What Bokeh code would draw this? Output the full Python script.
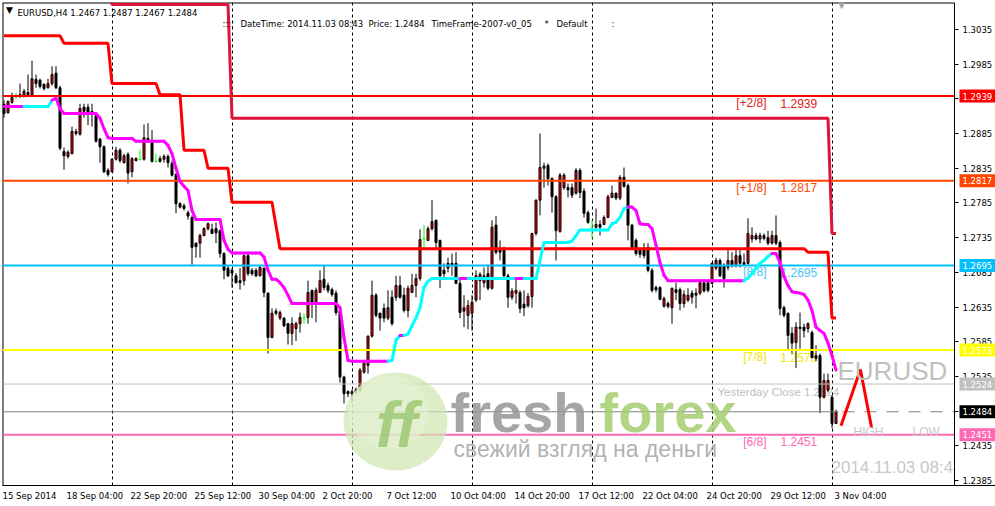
from bokeh.plotting import figure
from bokeh.models import (Range1d, FixedTicker, LinearAxis, Label, Grid,
                          PrintfTickFormatter)
from bokeh.core.properties import value
from bokeh.embed import file_html
from bokeh.resources import INLINE

# ---------------- data (EURUSD H4) ----------------
opens = [
    1.2927, 1.2915, 1.2930, 1.2938, 1.2941, 1.2940, 1.2944, 1.2941, 1.2963, 1.2962,
    1.2956, 1.2951, 1.2957, 1.2972, 1.2951, 1.2859, 1.2852, 1.2856, 1.2888, 1.2884,
    1.2923, 1.2923, 1.2917, 1.2911, 1.2877, 1.2866, 1.2832, 1.2830, 1.2848, 1.2861,
    1.2843, 1.2855, 1.2830, 1.2846, 1.2848, 1.2848, 1.2878, 1.2872, 1.2845, 1.2849,
    1.2848, 1.2852, 1.2842, 1.2826, 1.2784, 1.2781, 1.2771, 1.2764, 1.2727, 1.2727,
    1.2738, 1.2748, 1.2747, 1.2748, 1.2745, 1.2712, 1.2691, 1.2688, 1.2680, 1.2673,
    1.2673, 1.2709, 1.2688, 1.2688, 1.2680, 1.2691, 1.2655, 1.2591, 1.2629, 1.2619,
    1.2619, 1.2611, 1.2597, 1.2604, 1.2611, 1.2619, 1.2620, 1.2659, 1.2642, 1.2656,
    1.2675, 1.2666, 1.2660, 1.2655, 1.2630, 1.2534, 1.2513, 1.2510, 1.2512, 1.2515,
    1.2541, 1.2551, 1.2593, 1.2652, 1.2626, 1.2633, 1.2619, 1.2649, 1.2649, 1.2666,
    1.2652, 1.2630, 1.2656, 1.2666, 1.2676, 1.2733, 1.2731, 1.2748, 1.2760, 1.2731,
    1.2688, 1.2691, 1.2698, 1.2698, 1.2669, 1.2629, 1.2623, 1.2626, 1.2645, 1.2673,
    1.2670, 1.2683, 1.2662, 1.2753, 1.2719, 1.2717, 1.2680, 1.2649, 1.2655, 1.2656,
    1.2639, 1.2637, 1.2650, 1.2741, 1.2789, 1.2835, 1.2839, 1.2820, 1.2794, 1.2744,
    1.2807, 1.2807, 1.2807, 1.2799, 1.2832, 1.2802, 1.2771, 1.2749, 1.2750, 1.2754,
    1.2754, 1.2764, 1.2793, 1.2799, 1.2792, 1.2822, 1.2810, 1.2753, 1.2731, 1.2717,
    1.2719, 1.2721, 1.2688, 1.2663, 1.2663, 1.2636, 1.2640, 1.2634, 1.2660, 1.2660,
    1.2640, 1.2645, 1.2655, 1.2652, 1.2655, 1.2670, 1.2670, 1.2669, 1.2691, 1.2702,
    1.2695, 1.2692, 1.2702, 1.2695, 1.2709, 1.2699, 1.2698, 1.2733, 1.2738, 1.2733,
    1.2738, 1.2735, 1.2727, 1.2738, 1.2728, 1.2634, 1.2626, 1.2597, 1.2584, 1.2606,
    1.2606, 1.2604, 1.2598, 1.2565, 1.2565, 1.2505, 1.2515, 1.2505, 1.2467,
]
highs = [
    1.2933, 1.2933, 1.2944, 1.2944, 1.2957, 1.2949, 1.2970, 1.2990, 1.2970, 1.2964,
    1.2957, 1.2964, 1.2982, 1.2982, 1.2954, 1.2865, 1.2861, 1.2895, 1.2892, 1.2928,
    1.2928, 1.2928, 1.2928, 1.2914, 1.2879, 1.2868, 1.2835, 1.2849, 1.2866, 1.2864,
    1.2856, 1.2858, 1.2851, 1.2851, 1.2862, 1.2898, 1.2900, 1.2890, 1.2856, 1.2853,
    1.2855, 1.2855, 1.2846, 1.2828, 1.2786, 1.2784, 1.2774, 1.2767, 1.2728, 1.2741,
    1.2750, 1.2757, 1.2755, 1.2757, 1.2747, 1.2714, 1.2694, 1.2691, 1.2684, 1.2691,
    1.2709, 1.2714, 1.2691, 1.2691, 1.2695, 1.2692, 1.2656, 1.2633, 1.2633, 1.2630,
    1.2620, 1.2612, 1.2620, 1.2614, 1.2627, 1.2626, 1.2673, 1.2660, 1.2663, 1.2688,
    1.2695, 1.2670, 1.2663, 1.2659, 1.2633, 1.2536, 1.2515, 1.2516, 1.2519, 1.2547,
    1.2555, 1.2594, 1.2673, 1.2655, 1.2627, 1.2640, 1.2659, 1.2659, 1.2680, 1.2680,
    1.2663, 1.2666, 1.2683, 1.2683, 1.2747, 1.2753, 1.2751, 1.2789, 1.2761, 1.2732,
    1.2698, 1.2706, 1.2712, 1.2714, 1.2678, 1.2652, 1.2645, 1.2652, 1.2688, 1.2685,
    1.2692, 1.2696, 1.2760, 1.2766, 1.2731, 1.2722, 1.2683, 1.2662, 1.2676, 1.2659,
    1.2659, 1.2655, 1.2742, 1.2790, 1.2885, 1.2843, 1.2842, 1.2822, 1.2796, 1.2828,
    1.2828, 1.2813, 1.2813, 1.2835, 1.2835, 1.2806, 1.2774, 1.2760, 1.2777, 1.2760,
    1.2767, 1.2797, 1.2810, 1.2800, 1.2825, 1.2836, 1.2813, 1.2755, 1.2734, 1.2721,
    1.2727, 1.2727, 1.2691, 1.2666, 1.2665, 1.2650, 1.2643, 1.2663, 1.2670, 1.2663,
    1.2659, 1.2662, 1.2659, 1.2662, 1.2673, 1.2675, 1.2672, 1.2699, 1.2706, 1.2705,
    1.2698, 1.2717, 1.2714, 1.2717, 1.2717, 1.2712, 1.2763, 1.2750, 1.2742, 1.2742,
    1.2741, 1.2745, 1.2745, 1.2767, 1.2731, 1.2637, 1.2627, 1.2606, 1.2613, 1.2627,
    1.2611, 1.2613, 1.2601, 1.2580, 1.2568, 1.2539, 1.2539, 1.2508, 1.2487,
]
lows = [
    1.2908, 1.2914, 1.2928, 1.2934, 1.2937, 1.2937, 1.2938, 1.2940, 1.2951, 1.2950,
    1.2947, 1.2950, 1.2954, 1.2949, 1.2861, 1.2833, 1.2849, 1.2855, 1.2882, 1.2882,
    1.2908, 1.2897, 1.2895, 1.2872, 1.2843, 1.2828, 1.2823, 1.2829, 1.2846, 1.2843,
    1.2842, 1.2813, 1.2822, 1.2845, 1.2846, 1.2846, 1.2872, 1.2843, 1.2843, 1.2843,
    1.2843, 1.2836, 1.2823, 1.2770, 1.2777, 1.2774, 1.2761, 1.2696, 1.2706, 1.2706,
    1.2737, 1.2745, 1.2740, 1.2727, 1.2706, 1.2675, 1.2678, 1.2663, 1.2669, 1.2660,
    1.2666, 1.2680, 1.2680, 1.2678, 1.2679, 1.2649, 1.2568, 1.2590, 1.2623, 1.2616,
    1.2606, 1.2581, 1.2580, 1.2586, 1.2598, 1.2611, 1.2611, 1.2619, 1.2613, 1.2655,
    1.2659, 1.2655, 1.2650, 1.2623, 1.2526, 1.2496, 1.2505, 1.2497, 1.2510, 1.2512,
    1.2539, 1.2539, 1.2591, 1.2620, 1.2601, 1.2613, 1.2616, 1.2608, 1.2644, 1.2647,
    1.2627, 1.2620, 1.2655, 1.2649, 1.2673, 1.2721, 1.2730, 1.2745, 1.2717, 1.2662,
    1.2676, 1.2685, 1.2680, 1.2668, 1.2619, 1.2606, 1.2603, 1.2601, 1.2642, 1.2645,
    1.2663, 1.2659, 1.2660, 1.2711, 1.2702, 1.2678, 1.2634, 1.2645, 1.2640, 1.2626,
    1.2622, 1.2634, 1.2634, 1.2738, 1.2767, 1.2807, 1.2810, 1.2771, 1.2702, 1.2742,
    1.2804, 1.2793, 1.2792, 1.2797, 1.2792, 1.2764, 1.2755, 1.2734, 1.2745, 1.2738,
    1.2753, 1.2763, 1.2792, 1.2789, 1.2789, 1.2807, 1.2731, 1.2717, 1.2709, 1.2706,
    1.2705, 1.2685, 1.2656, 1.2656, 1.2645, 1.2634, 1.2633, 1.2611, 1.2645, 1.2630,
    1.2634, 1.2642, 1.2640, 1.2633, 1.2652, 1.2656, 1.2656, 1.2668, 1.2688, 1.2678,
    1.2663, 1.2688, 1.2692, 1.2692, 1.2692, 1.2695, 1.2695, 1.2728, 1.2731, 1.2727,
    1.2731, 1.2724, 1.2725, 1.2724, 1.2623, 1.2620, 1.2572, 1.2568, 1.2547, 1.2575,
    1.2591, 1.2598, 1.2561, 1.2557, 1.2482, 1.2503, 1.2512, 1.2461, 1.2467,
]
closes = [
    1.2914, 1.2931, 1.2937, 1.2938, 1.2938, 1.2946, 1.2941, 1.2964, 1.2957, 1.2953,
    1.2950, 1.2957, 1.2970, 1.2951, 1.2864, 1.2853, 1.2858, 1.2888, 1.2885, 1.2921,
    1.2917, 1.2914, 1.2914, 1.2874, 1.2866, 1.2830, 1.2826, 1.2848, 1.2861, 1.2846,
    1.2853, 1.2828, 1.2849, 1.2849, 1.2848, 1.2879, 1.2875, 1.2845, 1.2845, 1.2845,
    1.2852, 1.2843, 1.2825, 1.2784, 1.2779, 1.2777, 1.2766, 1.2721, 1.2722, 1.2738,
    1.2748, 1.2755, 1.2741, 1.2742, 1.2712, 1.2688, 1.2680, 1.2684, 1.2670, 1.2670,
    1.2709, 1.2683, 1.2683, 1.2680, 1.2692, 1.2656, 1.2591, 1.2626, 1.2626, 1.2627,
    1.2608, 1.2597, 1.2611, 1.2611, 1.2620, 1.2619, 1.2656, 1.2640, 1.2659, 1.2673,
    1.2663, 1.2659, 1.2653, 1.2627, 1.2534, 1.2510, 1.2510, 1.2513, 1.2516, 1.2544,
    1.2554, 1.2593, 1.2652, 1.2623, 1.2619, 1.2619, 1.2634, 1.2611, 1.2666, 1.2649,
    1.2630, 1.2662, 1.2666, 1.2676, 1.2732, 1.2733, 1.2748, 1.2758, 1.2728, 1.2680,
    1.2683, 1.2698, 1.2695, 1.2669, 1.2627, 1.2634, 1.2637, 1.2642, 1.2680, 1.2682,
    1.2680, 1.2662, 1.2750, 1.2714, 1.2714, 1.2680, 1.2649, 1.2658, 1.2659, 1.2633,
    1.2634, 1.2650, 1.2741, 1.2789, 1.2836, 1.2838, 1.2820, 1.2794, 1.2745, 1.2825,
    1.2825, 1.2804, 1.2796, 1.2832, 1.2800, 1.2770, 1.2757, 1.2749, 1.2754, 1.2750,
    1.2764, 1.2794, 1.2799, 1.2792, 1.2822, 1.2809, 1.2753, 1.2721, 1.2712, 1.2711,
    1.2709, 1.2688, 1.2659, 1.2660, 1.2646, 1.2647, 1.2636, 1.2662, 1.2656, 1.2640,
    1.2653, 1.2652, 1.2649, 1.2655, 1.2670, 1.2658, 1.2659, 1.2698, 1.2702, 1.2680,
    1.2676, 1.2702, 1.2695, 1.2709, 1.2698, 1.2696, 1.2741, 1.2738, 1.2733, 1.2738,
    1.2734, 1.2727, 1.2738, 1.2727, 1.2633, 1.2623, 1.2594, 1.2583, 1.2606, 1.2604,
    1.2601, 1.2611, 1.2562, 1.2561, 1.2505, 1.2529, 1.2529, 1.2467, 1.2484,
]
# trailing-stop line (magenta = down, cyan = up)
trail = [
    1.2924, 1.2924, 1.2924, 1.2924, 1.2924, 1.2924, 1.2924, 1.2924, 1.2924, 1.2924,
    1.2924, 1.2924, 1.2933, 1.2936, 1.2921, 1.2914, 1.2914, 1.2914, 1.2914, 1.2914,
    1.2914, 1.2914, 1.2914, 1.2914, 1.2907, 1.2892, 1.2879, 1.2878, 1.2878, 1.2878,
    1.2878, 1.2878, 1.2878, 1.2874, 1.2874, 1.2874, 1.2874, 1.2874, 1.2874, 1.2874,
    1.2874, 1.2868, 1.2856, 1.2835, 1.2816, 1.2809, 1.2803, 1.2774, 1.2761, 1.2761,
    1.2761, 1.2761, 1.2761, 1.2761, 1.2761, 1.2731, 1.2718, 1.2713, 1.2713, 1.2713,
    1.2713, 1.2713, 1.2713, 1.2713, 1.2713, 1.2707, 1.2688, 1.2675, 1.2675, 1.2670,
    1.2663, 1.2652, 1.2640, 1.2640, 1.2640, 1.2640, 1.2640, 1.2640, 1.2640, 1.2640,
    1.2640, 1.2640, 1.2640, 1.2640, 1.2634, 1.2591, 1.2558, 1.2557, 1.2557, 1.2557,
    1.2557, 1.2557, 1.2557, 1.2557, 1.2557, 1.2557, 1.2557, 1.2558, 1.2587, 1.2594,
    1.2594, 1.2596, 1.2608, 1.2619, 1.2634, 1.2663, 1.2672, 1.2676, 1.2676, 1.2676,
    1.2676, 1.2676, 1.2676, 1.2676, 1.2676, 1.2676, 1.2676, 1.2676, 1.2676, 1.2676,
    1.2676, 1.2676, 1.2676, 1.2676, 1.2676, 1.2676, 1.2676, 1.2676, 1.2676, 1.2676,
    1.2676, 1.2676, 1.2676, 1.2676, 1.2702, 1.2728, 1.2728, 1.2728, 1.2728, 1.2728,
    1.2728, 1.2728, 1.2730, 1.2738, 1.2746, 1.2746, 1.2746, 1.2746, 1.2746, 1.2746,
    1.2746, 1.2746, 1.2755, 1.2757, 1.2764, 1.2777, 1.2779, 1.2779, 1.2774, 1.2755,
    1.2754, 1.2754, 1.2748, 1.2724, 1.2699, 1.2681, 1.2673, 1.2673, 1.2673, 1.2673,
    1.2673, 1.2673, 1.2673, 1.2673, 1.2673, 1.2673, 1.2673, 1.2673, 1.2673, 1.2673,
    1.2673, 1.2673, 1.2673, 1.2673, 1.2673, 1.2673, 1.2677, 1.2683, 1.2691, 1.2698,
    1.2702, 1.2708, 1.2712, 1.2712, 1.2699, 1.2679, 1.2666, 1.2657, 1.2656, 1.2655,
    1.2653, 1.2645, 1.2630, 1.2606, 1.2601, 1.2597, 1.2583, 1.2565, 1.2544,
]
trend_runs = [("d", 6), ("u", 7), ("d", 84), ("u", 3), ("d", 1), ("u", 14), ("d", 2),
              ("u", 12), ("d", 2), ("u", 26), ("d", 29), ("u", 7), ("d", 16)]
# stepped stop lines (value, number of bars)
red_stop_runs = [(1.3026, 15), (1.3015, 12), (1.2957, 12), (1.2941, 6), (1.2861, 6),
                 (1.2835, 6), (1.2786, 11), (1.2752, 1), (1.2719, 132), (1.2714, 6),
                 (1.2619, 2)]
crimson_stop_runs = [(1.3095, 27), (1.3071, 30), (1.2907, 150), (1.2741, 2)]

murrey_levels = [1.2939, 1.2817, 1.2695, 1.2573, 1.2451]
murrey_names = ["[+2/8]", "[+1/8]", "[8/8]", "[7/8]", "[6/8]"]
murrey_colors = ["#FF0000", "#FF4500", "#00BFFF", "#FFFF00", "#FF69B4"]
murrey_text_colors = ["#E02020", "#FF4500", "#4CC3F2", "#F2E600", "#FF69B4"]
yesterday_close = 1.2524
bid_price = 1.2484
zigzag_x = [209.25, 214.1, 216.9]
zigzag_y = [1.2464, 1.2545, 1.2461]

y_ticks = [1.2385, 1.2435, 1.2485, 1.2535, 1.2585, 1.2635, 1.2685, 1.2735,
           1.2785, 1.2835, 1.2885, 1.2935, 1.2985, 1.3035]
date_tick_bars = [0, 16, 32, 48, 64, 80, 96, 112, 128, 144, 160, 176, 192, 208]
date_labels = ["15 Sep 2014", "18 Sep 04:00", "22 Sep 20:00", "25 Sep 12:00",
               "30 Sep 04:00", "2 Oct 20:00", "7 Oct 12:00", "10 Oct 04:00",
               "14 Oct 20:00", "17 Oct 12:00", "22 Oct 04:00", "24 Oct 20:00",
               "29 Oct 12:00", "3 Nov 04:00"]
week_separators = [27, 57, 87, 117, 147, 177, 207]


def expand(runs):
    out = []
    for v, k in runs:
        out.extend([v] * k)
    return out


trend = expand(trend_runs)
red_stop = expand(red_stop_runs)
crimson_stop = expand(crimson_stop_runs)

# ---------------- geometry ----------------
W, H = 995, 506
FL, FT, FB = 2, 2, 485
AXIS_PX = 954          # where the price scale sits
BAR_PX = 4.0
PPU = 6938.0
X0 = -0.375
X1 = X0 + (W - FL) / BAR_PX
Y_TOP = 1.30739
Y_BOT = Y_TOP - (FB - FT) / PPU


def px2x(px):
    return X0 + (px - FL) / BAR_PX


def py2y(py):
    return Y_TOP - (py - FT) / PPU


XA = px2x(AXIS_PX)

p = figure(width=W, height=H, x_range=Range1d(X0, X1), y_range=Range1d(Y_BOT, Y_TOP),
           output_backend="svg", toolbar_location=None,
           x_axis_location=None, y_axis_location=None,
           min_border_left=FL, min_border_top=FT,
           min_border_right=0, min_border_bottom=H - FB)
p.background_fill_color = "white"
p.border_fill_color = "white"
p.outline_line_color = None
for g in p.grid:
    g.visible = False

sep = Grid(dimension=0, ticker=FixedTicker(ticks=week_separators))
sep.grid_line_color = "black"
sep.grid_line_dash = "3 3"
sep.grid_line_width = 1
p.add_layout(sep, "center")

UI_FONT = "DejaVu Sans"
UI_SIZE = "8.5px"
yax = LinearAxis(ticker=FixedTicker(ticks=y_ticks), formatter=PrintfTickFormatter(format="%.4f"),
                 fixed_location=XA)
yax.major_tick_out = 4
yax.major_tick_in = 0
yax.minor_tick_out = 0
yax.minor_tick_in = 0
yax.major_label_standoff = 4
yax.major_label_text_font = UI_FONT
yax.major_label_text_font_size = UI_SIZE
yax.major_label_text_color = "black"
yax.axis_line_color = "black"
p.add_layout(yax, "right")

# date labels start at their bar (MT4 style): centre each label to the right of its bar
char_em = {"0": .636, "1": .636, "2": .636, "3": .636, "4": .636, "5": .636, "6": .636,
           "7": .636, "8": .636, "9": .636, " ": .318, ":": .337, "S": .635, "e": .615,
           "p": .635, "O": .787, "c": .550, "t": .392, "N": .748, "o": .612, "v": .592}


def text_px(s, size=8.5):
    return sum(char_em.get(ch, .6) for ch in s) * size


label_pos = [b + (text_px(s) / 2 - 1.5) / BAR_PX for b, s in zip(date_tick_bars, date_labels)]
xax = LinearAxis(ticker=FixedTicker(ticks=label_pos),
                 major_label_overrides={pos: s for pos, s in zip(label_pos, date_labels)})
xax.major_tick_out = 0
xax.major_tick_in = 0
xax.minor_tick_out = 0
xax.minor_tick_in = 0
xax.major_label_standoff = 5
xax.major_label_text_font = UI_FONT
xax.major_label_text_font_size = UI_SIZE
xax.major_label_text_color = "black"
xax.axis_line_color = "black"
p.add_layout(xax, "below")

# chart border (top and left)
p.segment(x0=[X0], y0=[Y_TOP], x1=[XA], y1=[Y_TOP], line_color="black", line_width=2)
p.segment(x0=[X0], y0=[Y_BOT], x1=[X0], y1=[Y_TOP], line_color="black", line_width=2)

# Murrey level captions (behind the candles)
cap_y = [lv - 7 / PPU for lv in murrey_levels]
p.text(x=[px2x(766)] * 5, y=cap_y, text=murrey_names, text_color=murrey_text_colors,
       text_font=value("Liberation Sans"), text_font_size=value("12px"),
       text_align="right", text_baseline="middle")
p.text(x=[px2x(780)] * 5, y=cap_y, text=["%.4f" % v for v in murrey_levels],
       text_color=murrey_text_colors, text_font=value("Liberation Sans"),
       text_font_size=value("12px"), text_align="left", text_baseline="middle")
p.text(x=[px2x(717)], y=[yesterday_close - 8 / PPU],
       text=["Yesterday Close %.4f" % yesterday_close], text_color="#C0C0C0",
       text_font=value("Liberation Sans"), text_font_size=value("11.5px"),
       text_align="left", text_baseline="middle")

# ---------------- candles ----------------
idx = list(range(len(opens)))
up = [i for i in idx if closes[i] > opens[i]]
dn = [i for i in idx if closes[i] < opens[i]]
dj = [i for i in idx if closes[i] == opens[i]]
nd = up + dn
p.segment(x0=nd, y0=[lows[i] for i in nd], x1=nd, y1=[highs[i] for i in nd],
          line_color="black", line_width=1)
p.vbar(x=up, width=0.5, bottom=[opens[i] for i in up], top=[closes[i] for i in up],
       fill_color="#FF0000", line_color="black", line_width=1)
p.vbar(x=dn, width=0.5, top=[opens[i] for i in dn], bottom=[closes[i] for i in dn],
       fill_color="black", line_color="black", line_width=1)
p.segment(x0=dj, y0=[lows[i] for i in dj], x1=dj, y1=[highs[i] for i in dj],
          line_color="#00FF00", line_width=1)
p.segment(x0=[i - 0.375 for i in dj], y0=[opens[i] for i in dj],
          x1=[i + 0.375 for i in dj], y1=[opens[i] for i in dj],
          line_color="#00FF00", line_width=1)

# ---------------- horizontal levels (end at the price scale) ----------------
p.segment(x0=[X0] * 5, y0=murrey_levels, x1=[XA] * 5, y1=murrey_levels,
          line_color=murrey_colors, line_width=2)
p.segment(x0=[X0], y0=[yesterday_close], x1=[XA], y1=[yesterday_close],
          line_color="#C0C0C0", line_width=1)
p.segment(x0=[X0], y0=[bid_price], x1=[px2x(838)], y1=[bid_price], line_color="#808080", line_width=1)
p.segment(x0=[px2x(842)], y0=[bid_price], x1=[XA], y1=[bid_price], line_color="#808080",
          line_width=1, line_dash="12 10")

# ---------------- indicator lines ----------------
p.line(idx, red_stop, line_color="#FF0000", line_width=3)
p.line(idx, crimson_stop, line_color="#DC143C", line_width=3)
seg_col = ["#FF00FF" if trend[i] == "d" else "#00FFFF" for i in idx[1:]]
p.segment(x0=idx[:-1], y0=trail[:-1], x1=idx[1:], y1=trail[1:],
          line_color=seg_col, line_width=3, line_cap="round")
p.line(zigzag_x, zigzag_y, line_color="#FF0000", line_width=3)

# ---------------- watermark logo ----------------
p.ellipse(x=[px2x(395)], y=[py2y(421)], width=104 / BAR_PX, height=98 / PPU,
          fill_color="#CFE6B0", fill_alpha=0.7, line_color=None)
p.ellipse(x=[px2x(388)], y=[py2y(412)], width=80 / BAR_PX, height=74 / PPU,
          fill_color="#E6F2D6", fill_alpha=0.55, line_color=None)

# time stamp (clipped by the price scale, as in the terminal)
p.text(x=[px2x(831)], y=[py2y(467)], text=["2014.11.03 08:43"], text_color="#C8C8C8",
       text_font=value("Liberation Sans"), text_font_size=value("17px"),
       text_align="left", text_baseline="middle")
p.quad(left=[XA + 0.15], right=[X1], bottom=[py2y(478)], top=[py2y(455)],
       fill_color="white", line_color=None)


def lab(text, px, py, color="black", size=UI_SIZE, font=UI_FONT, align="left",
        baseline="middle", style="normal", alpha=1.0):
    p.add_layout(Label(x=px2x(px), y=py2y(py), text=text, text_color=color,
                       text_font=font, text_font_size=size, text_align=align,
                       text_baseline=baseline, text_font_style=style, text_alpha=alpha))


lab("ff", 396, 424, color="#9CC873", size="64px", font="Liberation Sans",
    align="center", style="bold italic", alpha=0.85)
lab("fresh", 450, 412, color="#959595", size="56px", font="Liberation Sans",
    style="bold", alpha=0.85)
lab("forex", 599, 412, color="#A3CD70", size="56px", font="Liberation Sans",
    style="bold", alpha=0.85)
lab("свежий взгляд на деньги", 453, 448, color="#A8A8A8", size="23px",
    font="Liberation Sans", alpha=0.9)

# right-side chart texts
lab("EURUSD", 837, 370, color="#C0C0C0", size="26px", font="Liberation Sans")
lab("HIGH", 853, 431, color="#C8C8C8", size="12px", font="Liberation Sans")
lab("LOW", 912, 431, color="#C8C8C8", size="12px", font="Liberation Sans")

# header
lab("▼", 9, 9, size="9px", align="center")
lab("EURUSD,H4  %.4f %.4f %.4f %.4f" % (opens[-1], highs[-1], lows[-1], closes[-1]), 17, 12)
for t, px in [("::::", 222), ("DateTime: 2014.11.03 08:43", 240), ("Price: %.4f" % bid_price, 368),
              ("TimeFrame-2007-v0_05", 431), ("*", 544), ("Default", 556), (":", 611)]:
    lab(t, px, 23)
lab("▼", 841, 4, color="#A0A0A0", size="10px", align="center")

# price boxes on the price scale
box_levels = murrey_levels + [yesterday_close, bid_price]
box_colors = murrey_colors + ["#C0C0C0", "#000000"]
for lv, c in zip(box_levels, box_colors):
    p.add_layout(Label(x=px2x(959), y=lv, text="%.4f" % lv, text_color="white",
                       text_font=UI_FONT, text_font_size=UI_SIZE, text_align="left",
                       text_baseline="middle", background_fill_color=c,
                       padding=3))

open("out.html", "w").write(file_html(p, INLINE))
